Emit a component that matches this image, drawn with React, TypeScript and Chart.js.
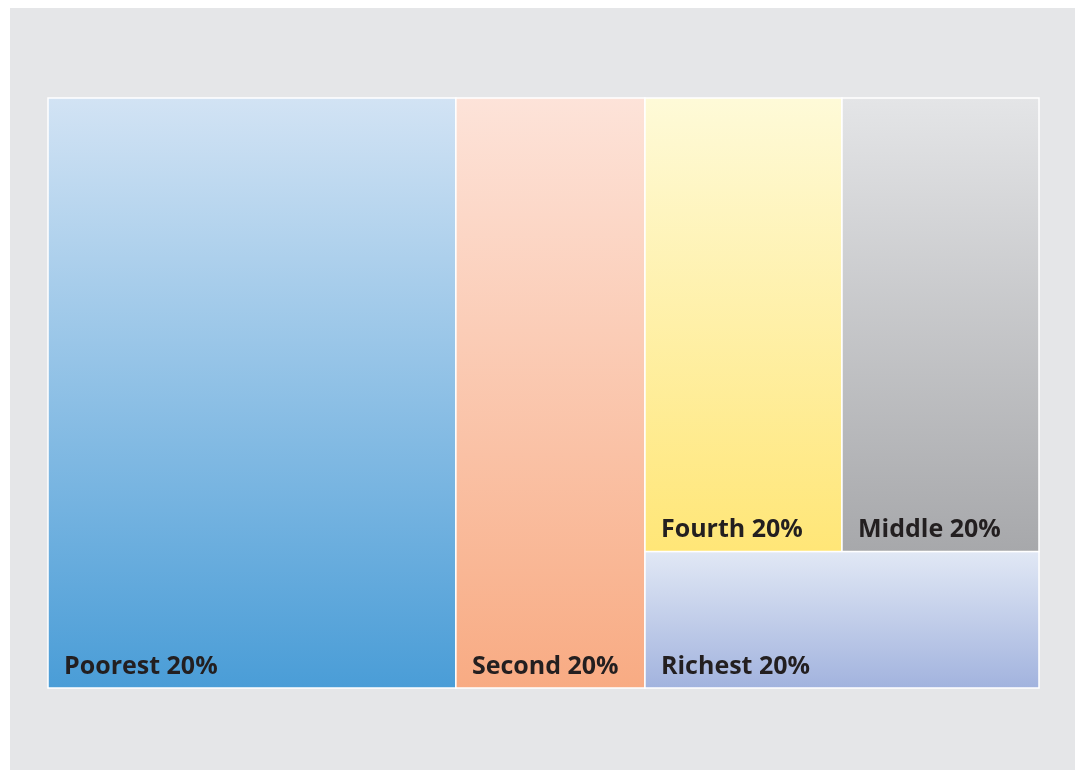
import { useEffect, useRef } from "react";
import { Chart, registerables } from "chart.js";

Chart.register(...registerables);

// ---- Data ----
const categories = ["Poorest 20%", "Second 20%", "Fourth 20%", "Middle 20%", "Richest 20%"];
const values = [41.2, 19.1, 15.3, 15.3, 9.2];
const topColors = ["#d2e3f4", "#fde3d9", "#fefad8", "#e4e5e7", "#e1e8f5"];
const bottomColors = ["#4a9dd7", "#f8ab83", "#ffe677", "#a7a8ab", "#a2b3de"];
// nesting of the cells (slice-and-dice, alternating direction, starting horizontal)
const tree: any[] = [0, 1, [[2, 3], 4]];

type Rect = { x0: number; y0: number; x1: number; y1: number };

function nodeTotal(node: any): number {
  return typeof node === "number" ? values[node] : node.reduce((s: number, n: any) => s + nodeTotal(n), 0);
}

function layout(node: any, x0: number, y0: number, x1: number, y1: number, horiz: boolean, out: Rect[]) {
  if (typeof node === "number") {
    out[node] = { x0, y0, x1, y1 };
    return;
  }
  const total = nodeTotal(node);
  let pos = horiz ? x0 : y0;
  node.forEach((child: any) => {
    const frac = nodeTotal(child) / total;
    if (horiz) {
      const w = (x1 - x0) * frac;
      layout(child, pos, y0, pos + w, y1, !horiz, out);
      pos += w;
    } else {
      const h = (y1 - y0) * frac;
      layout(child, x0, pos, x1, pos + h, !horiz, out);
      pos += h;
    }
  });
}

const treemapPlugin = {
  id: "treemapCells",
  afterDatasetsDraw(chart: any) {
    const { ctx } = chart;
    const xs = chart.scales.x;
    const ys = chart.scales.y;
    const rects: Rect[] = [];
    layout(tree, xs.min, ys.min, xs.max, ys.max, true, rects);
    ctx.save();
    rects.forEach((r, i) => {
      const left = xs.getPixelForValue(r.x0);
      const right = xs.getPixelForValue(r.x1);
      const top = ys.getPixelForValue(r.y0);
      const bottom = ys.getPixelForValue(r.y1);
      const g = ctx.createLinearGradient(0, top, 0, bottom);
      g.addColorStop(0, topColors[i]);
      g.addColorStop(1, bottomColors[i]);
      ctx.fillStyle = g;
      ctx.fillRect(left, top, right - left, bottom - top);
      ctx.strokeStyle = "#ffffff";
      ctx.lineWidth = 1.5;
      ctx.strokeRect(left, top, right - left, bottom - top);
      ctx.fillStyle = "#231f20";
      ctx.font = '700 25px "Open Sans", "Noto Sans", sans-serif';
      ctx.textAlign = "left";
      ctx.textBaseline = "alphabetic";
      ctx.fillText(categories[i], left + 16, bottom - 14.5);
    });
    ctx.restore();
  },
};

export default function App() {
  const canvasRef = useRef<HTMLCanvasElement | null>(null);

  useEffect(() => {
    if (!canvasRef.current) return;
    const chart = new Chart(canvasRef.current, {
      type: "scatter",
      data: {
        datasets: [
          {
            label: "Share",
            data: values.map((v, i) => ({ x: i, y: v })),
            pointRadius: 0,
            showLine: false,
          },
        ],
      },
      options: {
        animation: false,
        responsive: true,
        maintainAspectRatio: false,
        layout: { padding: { left: 38, right: 38, top: 90, bottom: 82 } },
        scales: {
          x: { type: "linear", min: 0, max: 100, display: false },
          y: { type: "linear", min: 0, max: 100, reverse: true, display: false },
        },
        plugins: {
          legend: { display: false },
          tooltip: { enabled: false },
        },
      },
      plugins: [treemapPlugin],
    });
    return () => chart.destroy();
  }, []);

  return (
    <div
      style={{
        marginLeft: 2,
        width: 1067,
        height: 762,
        background: "#e5e6e8",
        position: "relative",
      }}
    >
      <canvas ref={canvasRef} />
    </div>
  );
}
